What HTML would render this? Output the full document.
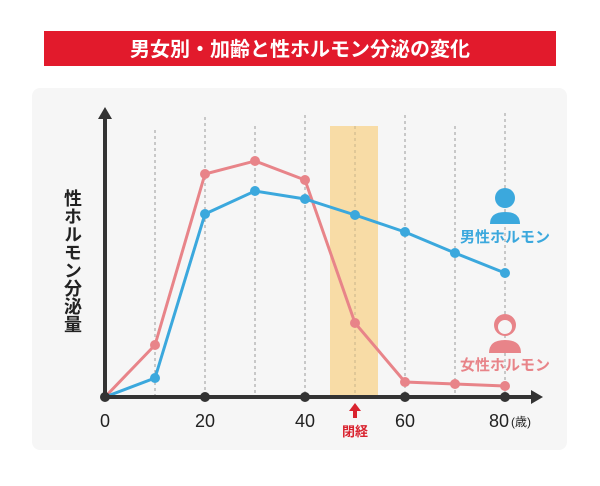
<!DOCTYPE html>
<html><head><meta charset="utf-8"><style>
body{margin:0;background:#fff;}
svg text{font-family:"Liberation Sans","Noto Sans CJK JP",sans-serif;}
</style></head><body>
<svg width="600" height="481" viewBox="0 0 600 481" xmlns="http://www.w3.org/2000/svg">
<rect x="0" y="0" width="600" height="481" fill="#fff"/>
<rect x="44" y="31" width="512" height="35" fill="#e21a2c"/>
<text x="300" y="56" text-anchor="middle" font-size="20" font-weight="bold" fill="#fff">男女別・加齢と性ホルモン分泌の変化</text>
<rect x="32" y="88" width="535" height="362" rx="8" fill="#f6f6f6"/>
<rect x="330" y="126" width="48" height="271" fill="#f8dca6"/>
<g stroke="#999" stroke-width="1" stroke-dasharray="3,3">
<line x1="155" y1="130" x2="155" y2="397"/><line x1="205" y1="117" x2="205" y2="397"/>
<line x1="255" y1="126" x2="255" y2="397"/><line x1="305" y1="115" x2="305" y2="397"/>
<line x1="355" y1="126" x2="355" y2="397" stroke="#c9b38a"/><line x1="405" y1="115" x2="405" y2="397"/>
<line x1="455" y1="126" x2="455" y2="397"/><line x1="505" y1="113" x2="505" y2="397"/>
</g>
<text transform="translate(72,189)" font-size="18" font-weight="bold" fill="#222" style="writing-mode:vertical-rl">性ホルモン分泌量</text>
<polyline fill="none" stroke="#e88489" stroke-width="3" points="105,397 155,345 205,174 255,161 305,180 355,323 405,382 455,384 505,386"/>
<g fill="#e88489"><circle cx="155" cy="345" r="5"/><circle cx="205" cy="174" r="5"/><circle cx="255" cy="161" r="5"/><circle cx="305" cy="180" r="5"/><circle cx="355" cy="323" r="5"/><circle cx="405" cy="382" r="5"/><circle cx="455" cy="384" r="5"/><circle cx="505" cy="386" r="5"/></g>
<polyline fill="none" stroke="#3ba8dd" stroke-width="3" points="105,397 155,378 205,214 255,191 305,199 355,215 405,232 455,253 505,273"/>
<g fill="#3ba8dd"><circle cx="155" cy="378" r="5"/><circle cx="205" cy="214" r="5"/><circle cx="255" cy="191" r="5"/><circle cx="305" cy="199" r="5"/><circle cx="355" cy="215" r="5"/><circle cx="405" cy="232" r="5"/><circle cx="455" cy="253" r="5"/><circle cx="505" cy="273" r="5"/></g>
<line x1="105" y1="397" x2="105" y2="118" stroke="#333" stroke-width="4"/>
<polygon points="105,107 98,119 112,119" fill="#333"/>
<line x1="105" y1="397" x2="533" y2="397" stroke="#333" stroke-width="4"/>
<polygon points="543,397 531,390 531,404" fill="#333"/>
<g fill="#333"><circle cx="105" cy="397" r="5"/><circle cx="205" cy="397" r="5"/><circle cx="305" cy="397" r="5"/><circle cx="405" cy="397" r="5"/><circle cx="505" cy="397" r="5"/></g>
<g font-size="18" fill="#222" text-anchor="middle"><text x="105" y="427">0</text><text x="205" y="427">20</text><text x="305" y="427">40</text><text x="405" y="427">60</text><text x="499" y="427">80</text></g>
<text x="511" y="426" font-size="12" fill="#222">(歳)</text>
<polygon points="355,403 349,411 353,411 353,418 357,418 357,411 361,411" fill="#d9232f"/>
<text x="355" y="436" text-anchor="middle" font-size="13" font-weight="bold" fill="#d9232f">閉経</text>
<g fill="#3ba8dd"><circle cx="505" cy="198" r="10"/><path d="M490,224 q0,-12 15,-12 q15,0 15,12 z"/></g>
<text x="505" y="242" text-anchor="middle" font-size="15" font-weight="bold" fill="#3ba8dd">男性ホルモン</text>
<g fill="#e88489"><circle cx="505" cy="325" r="11"/><path d="M489,353 q0,-13 16,-13 q16,0 16,13 z"/></g>
<circle cx="505" cy="327" r="7" fill="#f6f6f6"/>
<text x="505" y="370" text-anchor="middle" font-size="15" font-weight="bold" fill="#e88489">女性ホルモン</text>
</svg>
</body></html>
